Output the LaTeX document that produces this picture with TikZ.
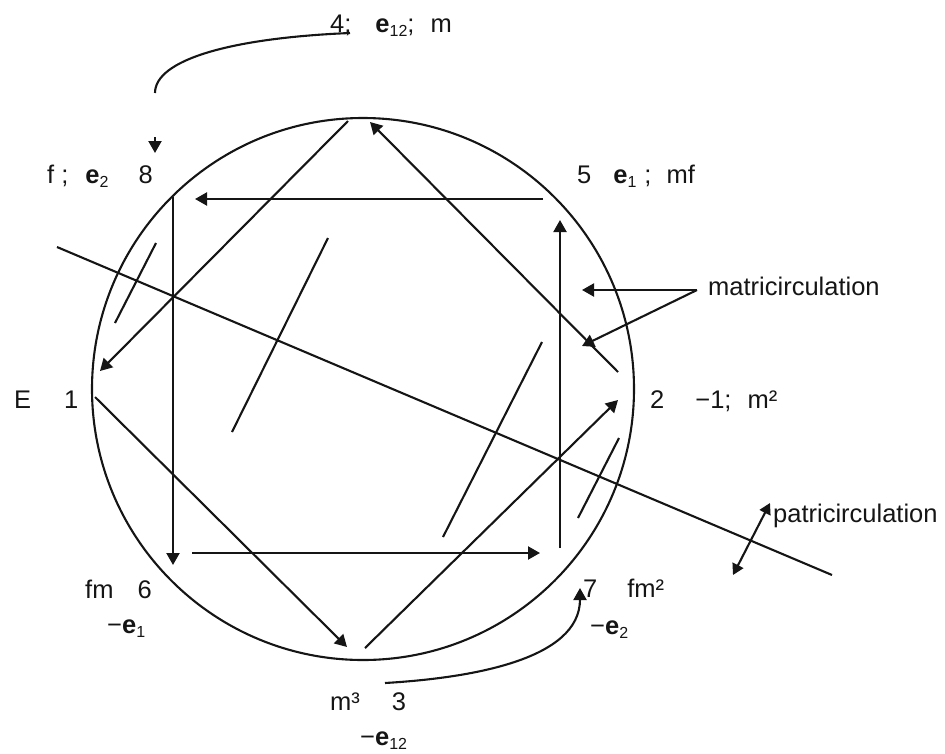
\documentclass[tikz,border=0pt]{standalone}
\usepackage{fontspec}
\setmainfont{Liberation Sans}
\usepackage{tikz}
\usetikzlibrary{arrows.meta, calc}
\definecolor{inkLine}{HTML}{151515}

\tikzset{
  bar/.style={draw=inkLine, line width=2.1pt},
  flow/.style={bar, -{Triangle[length=12pt,width=13pt]}},
  twoway/.style={bar, {Triangle[length=11pt,width=12pt]}-{Triangle[length=11pt,width=12pt]}},
  lbl/.style={font=\fontsize{25.5}{30}\selectfont, text=inkLine, inner sep=0pt, anchor=base west},
}
\newcommand\lowsub[1]{\raisebox{-4pt}{\fontsize{16}{18}\selectfont #1}}

\begin{document}
\begin{tikzpicture}[x=1pt, y=-1pt]
  \useasboundingbox (0,0) rectangle (945,753);
  \node[circle, bar, minimum size=542pt, inner sep=0pt] (ring) at (363,389) {};

  % square and diamond end points
  \coordinate (sqA) at (543,199);  \coordinate (sqB) at (195,199);
  \coordinate (sqC) at (173,197);  \coordinate (sqD) at (173,565);
  \coordinate (sqE) at (192,553);  \coordinate (sqF) at (540,553);
  \coordinate (sqG) at (560,548);  \coordinate (sqH) at (560,220);
  \coordinate (dmA) at (348,121);  \coordinate (dmB) at (100,371);
  \coordinate (dmC) at (618,372);  \coordinate (dmD) at (370,122);
  \coordinate (dmE) at (95,397);   \coordinate (dmF) at (347,647);
  \coordinate (dmG) at (365,648);  \coordinate (dmH) at (618,400);
  \foreach \a/\b in {sqA/sqB, sqC/sqD, sqE/sqF, sqG/sqH,
                     dmA/dmB, dmC/dmD, dmE/dmF, dmG/dmH}{
    \draw[flow] (\a) -- (\b);
  }

  % the cutting line and the slanted strokes
  \coordinate (cutA) at (57,247);   \coordinate (cutB) at (832,575);
  \coordinate (stA) at (156,243);   \coordinate (stB) at (115,323);
  \coordinate (stC) at (328,238);   \coordinate (stD) at (232,432);
  \coordinate (stE) at (542,342);   \coordinate (stF) at (443,537);
  \coordinate (stG) at (619,438);   \coordinate (stH) at (578,518);
  \foreach \a/\b in {cutA/cutB, stA/stB, stC/stD, stE/stF, stG/stH}{
    \draw[bar] (\a) -- (\b);
  }

  % labels round the circle
  \node[lbl] (lbTop) at (330,32) {4;\hspace{24pt}\textbf{e}\lowsub{12};\hspace{16pt}m};
  \node[lbl] (lbEight) at (47,183) {f ;\hspace{17pt}\textbf{e}\lowsub{2}\hspace{30pt}8};
  \node[lbl] (lbFive) at (577,183) {5\hspace{22pt}\textbf{e}\lowsub{1}\hspace{8pt};\hspace{15pt}mf};
  \node[lbl] (lbOne) at (14,408) {E\hspace{33pt}1};
  \node[lbl] (lbTwo) at (650,408) {2\hspace{31pt}−1;\hspace{16pt}m²};
  \node[lbl] (lbSix) at (85,598) {fm\hspace{24pt}6};
  \node[lbl] (lbSixB) at (107,633) {−\textbf{e}\lowsub{1}};
  \node[lbl] (lbThree) at (330,710) {m³\hspace{32pt}3};
  \node[lbl] (lbThreeB) at (360,745) {−\textbf{e}\lowsub{12}};
  \node[lbl] (lbSeven) at (583,597) {7\hspace{30pt}fm²};
  \node[lbl] (lbSevenB) at (590,634) {−\textbf{e}\lowsub{2}};
  \node[lbl] (mat) at (708,295) {matricirculation};
  \node[lbl] (pat) at (773,522) {patricirculation};

  % pointers
  \coordinate (matFork) at ($(mat.base west)+(-11,-5)$);
  \coordinate (matTipA) at (582,290);
  \coordinate (matTipB) at (582,346);
  \draw[flow] (matFork) -- (matTipA);
  \draw[flow] (matFork) -- (matTipB);
  \coordinate (patLow) at (733,575);
  \coordinate (patHigh) at ($(pat.base west)+(-3,-19)$);
  \draw[twoway] (patLow) -- (patHigh);

  % curved hints 4 -> 8 and 3 -> 7
  \coordinate (bendTop) at (350,33);
  \coordinate (bendEnd) at (155,93);
  \draw[bar] (bendTop) .. controls (230,38) and (155,60) .. (bendEnd);
  \coordinate (dropA) at (155,137);
  \coordinate (dropB) at (155,153);
  \draw[flow] (dropA) -- (dropB);
  \coordinate (bendLow) at (385,683);
  \coordinate (bendTip) at (580,588);
  \draw[flow] (bendLow) .. controls (470,678) and (580,660) .. (bendTip);
\end{tikzpicture}
\end{document}
